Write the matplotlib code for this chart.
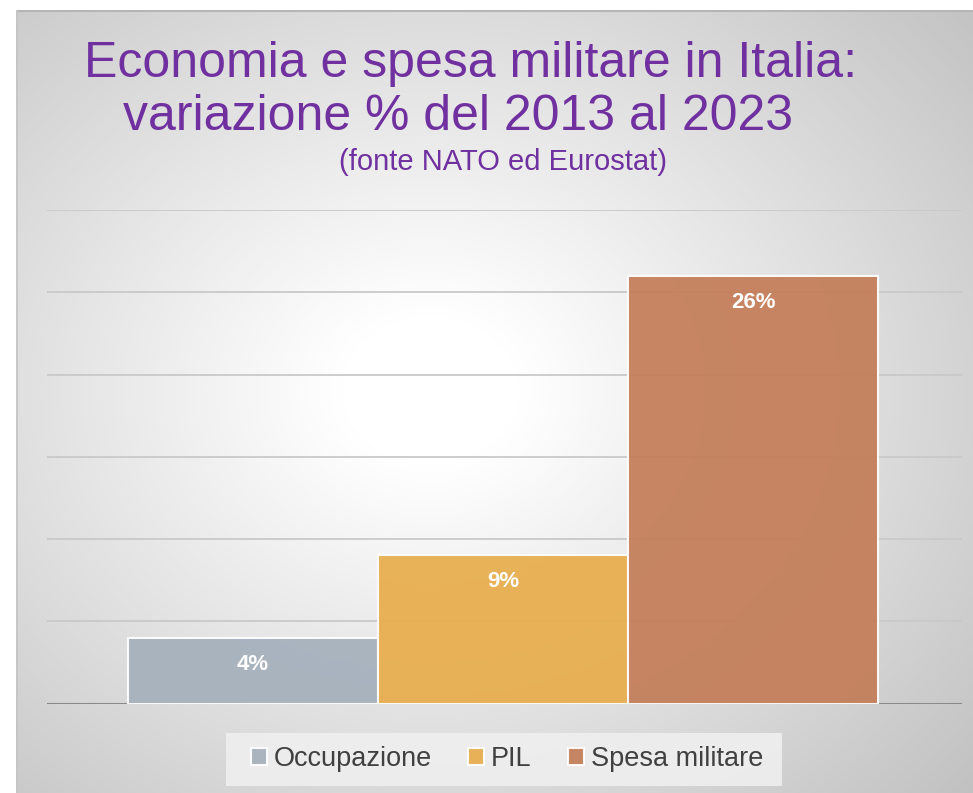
import numpy as np
import matplotlib
matplotlib.use("Agg")
import matplotlib.pyplot as plt
from matplotlib.patches import Rectangle

# Data
series = ["Occupazione", "PIL", "Spesa militare"]
values = [4, 9, 26]
labels = ["4%", "9%", "26%"]
colors = ["#A5B0BC", "#E8AD4C", "#C47D58"]
yticks = [0, 5, 10, 15, 20, 25, 30]

W, H = 973, 793
fig = plt.figure(figsize=(W / 100, H / 100), dpi=100, facecolor="white")

# Radial-gradient panel behind the chart
px0, py0 = 16, 10
bg = fig.add_axes([px0 / W, 0, (W - px0) / W, (H - py0) / H])
bg.set_axis_off()
gx = np.linspace(px0, W, 400)
gy = np.linspace(py0, H, 330)
X, Y = np.meshgrid(gx, gy)
cx, cy = 430, 390
r = np.sqrt(((X - cx) / 600) ** 2 + ((Y - cy) / 500) ** 2)
val = 255 - 58 * np.clip(r - 0.15, 0, None)
img = np.clip(np.dstack([val, val, val]) / 255.0, 0, 1)
bg.imshow(img, extent=[0, 1, 0, 1], aspect="auto", origin="upper")
bg.set_xlim(0, 1)
bg.set_ylim(0, 1)
bg.plot([0, 1], [0.999, 0.999], color="#b5b5b5", lw=1.5)
bg.plot([0.001, 0.001], [0, 1], color="#c4c4c4", lw=1.2)

# Main axes
left, right = 47, 962
top, base = 210, 703.5
ax = fig.add_axes([left / W, (H - base) / H, (right - left) / W, (base - top) / H])
ax.patch.set_alpha(0)
for s in ax.spines.values():
    s.set_visible(False)

fam = ["Liberation Sans", "DejaVu Sans"]
x = np.arange(len(series))
bw = 1.0
for xi, v, c, lab, name in zip(x, values, colors, labels, series):
    ax.bar(xi, v, width=bw, color=c, alpha=0.93, edgecolor=(1, 1, 1, 0.3),
           linewidth=1.5, label=name, zorder=3)
    ax.text(xi, v - 1.6, lab, ha="center", va="center", color="white",
            fontsize=16, fontweight="bold", family=fam, zorder=4)

ax.set_ylim(0, 30)
ax.set_xlim(-0.824, 2.836)
ax.set_yticks(yticks)
ax.yaxis.grid(True, color="#c9c9c9", lw=1.3, zorder=1)
ax.set_axisbelow(True)
ax.tick_params(left=False, bottom=False, labelleft=False, labelbottom=False)
ax.axhline(0, color="#8a8a8a", lw=2.2, zorder=2)

# Titles
purple = "#7030A0"
fig.text(471 / W, 1 - 77 / H, "Economia e spesa militare in Italia:", ha="center",
         va="baseline", color=purple, fontsize=36, family=fam)
fig.text(458 / W, 1 - 130 / H, "variazione % del 2013 al 2023", ha="center",
         va="baseline", color=purple, fontsize=36, family=fam)
fig.text(503.5 / W, 1 - 170 / H, "(fonte NATO ed Eurostat)", ha="center",
         va="baseline", color=purple, fontsize=21, family=fam)

# Legend with a flat light box behind it
fig.patches.append(Rectangle((226 / W, 1 - 786 / H), (782 - 226) / W, (786 - 733) / H,
                             transform=fig.transFigure, facecolor="#efefef",
                             edgecolor="none", alpha=0.9, zorder=1))
leg = fig.legend(loc="center", bbox_to_anchor=(507 / W, 1 - 759.5 / H), ncol=3,
                 frameon=False, handlelength=0.59, handleheight=0.59,
                 handletextpad=0.25, columnspacing=1.35, borderpad=0,
                 prop={"family": fam, "size": 19.5})
leg.set_zorder(2)
for t in leg.get_texts():
    t.set_color("#404040")

fig.savefig("out.png", dpi=100, facecolor="white")
